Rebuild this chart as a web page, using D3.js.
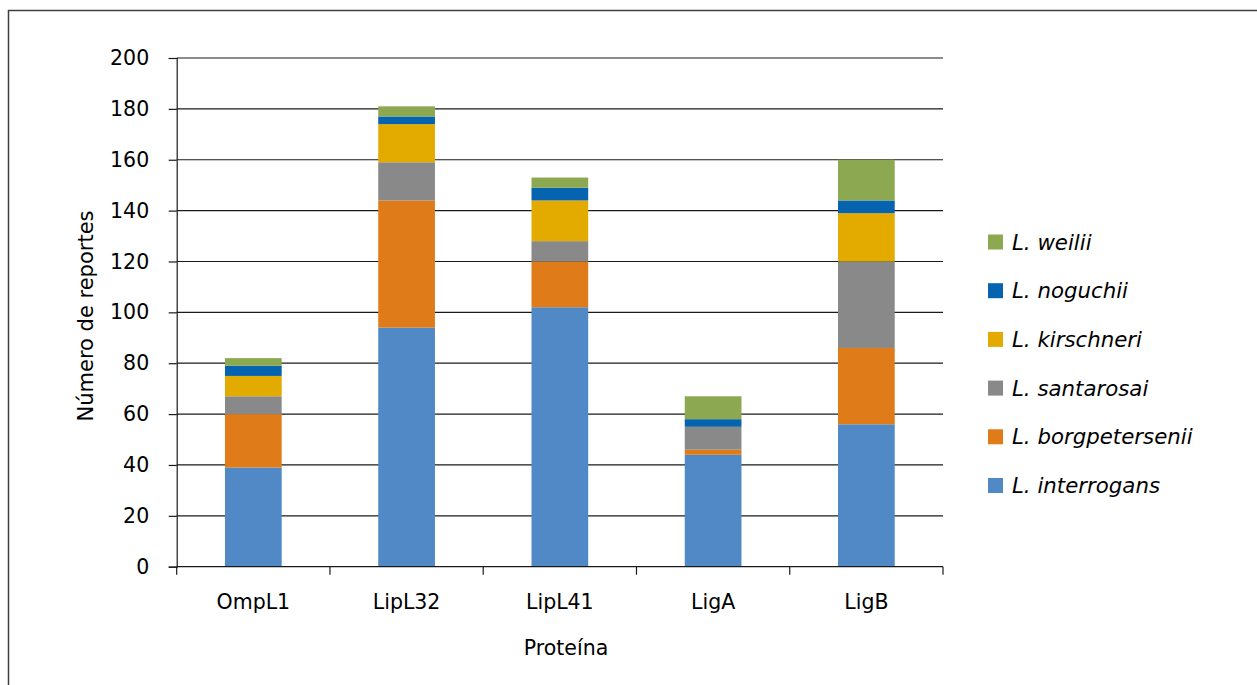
<!DOCTYPE html>
<html>
<head>
<meta charset="utf-8">
<script src="https://cdn.jsdelivr.net/npm/d3@7"></script>
<style>
  html, body { margin: 0; padding: 0; background: #fff; }
  svg { display: block; font-family: "DejaVu Sans", Verdana, sans-serif; }
</style>
</head>
<body>
<svg id="chart" width="1257" height="685"></svg>
<script>
// Proteins on the x axis
const proteins = ["OmpL1", "LipL32", "LipL41", "LigA", "LigB"];

// Species stacked from the bottom up
const species = ["L. interrogans", "L. borgpetersenii", "L. santarosai", "L. kirschneri", "L. noguchii", "L. weilii"];
const speciesColors = ["#5089c6", "#e07b1a", "#898989", "#e3aa00", "#0563b0", "#8ca850"];

// Number of reports per species, one value per protein
const interrogans    = [39, 94, 102, 44, 56];
const borgpetersenii = [21, 50, 18, 2, 30];
const santarosai     = [7, 15, 8, 9, 34];
const kirschneri     = [8, 15, 16, 0, 19];
const noguchii       = [4, 3, 5, 3, 5];
const weilii         = [3, 4, 4, 9, 16];

const yTicks = [0, 20, 40, 60, 80, 100, 120, 140, 160, 180, 200];

const seriesValues = [interrogans, borgpetersenii, santarosai, kirschneri, noguchii, weilii];
const rows = proteins.map((p, i) => {
  const r = { protein: p };
  species.forEach((s, k) => { r[s] = seriesValues[k][i]; });
  return r;
});

const svg = d3.select("#chart");
const plotLeft = 176.7, plotRight = 943, plotTop = 58, plotBottom = 566.7;
const fontSize = 20.5;

// Outer frame
svg.append("path")
  .attr("d", "M8.5,690 V10.5 H1257")
  .attr("fill", "none").attr("stroke", "#404040").attr("stroke-width", 1.5);

const x = d3.scaleBand().domain(proteins).range([plotLeft, plotRight]).paddingInner(0.63).paddingOuter(0.315);
const y = d3.scaleLinear().domain([0, 200]).range([plotBottom, plotTop]);

// Horizontal grid lines
svg.append("g").selectAll("line").data(yTicks.filter(t => t > 0)).join("line")
  .attr("x1", plotLeft).attr("x2", plotRight)
  .attr("y1", d => y(d)).attr("y2", d => y(d))
  .attr("stroke", "#1a1a1a").attr("stroke-width", 1.2);

// Stacked bars
const stack = d3.stack().keys(species)(rows);
svg.append("g").selectAll("g").data(stack).join("g")
  .attr("fill", (d, i) => speciesColors[i])
  .selectAll("rect").data(d => d).join("rect")
  .attr("x", d => x(d.data.protein))
  .attr("width", x.bandwidth())
  .attr("y", d => y(d[1]))
  .attr("height", d => y(d[0]) - y(d[1]));

// Y axis
const yAxis = d3.axisLeft(y).tickValues(yTicks).tickSize(8).tickPadding(19.5);
const gy = svg.append("g").attr("transform", `translate(${plotLeft},0)`).call(yAxis);
gy.select(".domain").attr("stroke", "#1a1a1a").attr("stroke-width", 1.2);
gy.selectAll(".tick line").attr("stroke", "#1a1a1a").attr("stroke-width", 1.2);
gy.selectAll(".tick text").attr("font-size", fontSize).attr("fill", "#000")
  .attr("font-family", "'DejaVu Sans', Verdana, sans-serif");

// X axis: line with ticks at the category boundaries
const gx = svg.append("g");
gx.append("line").attr("x1", plotLeft).attr("x2", plotRight).attr("y1", plotBottom).attr("y2", plotBottom)
  .attr("stroke", "#1a1a1a").attr("stroke-width", 1.2);
const boundaries = d3.range(proteins.length + 1).map(i => plotLeft + i * (plotRight - plotLeft) / proteins.length);
gx.selectAll(".bt").data(boundaries).join("line").attr("class", "bt")
  .attr("x1", d => d).attr("x2", d => d).attr("y1", plotBottom).attr("y2", plotBottom + 8)
  .attr("stroke", "#1a1a1a").attr("stroke-width", 1.2);
gx.selectAll("text").data(proteins).join("text")
  .attr("x", d => x(d) + x.bandwidth() / 2)
  .attr("y", 608.5)
  .attr("text-anchor", "middle")
  .attr("font-size", fontSize)
  .text(d => d);

// Axis titles
svg.append("text")
  .attr("transform", "translate(93,316) rotate(-90)")
  .attr("text-anchor", "middle").attr("font-size", 21)
  .text("Número de reportes");
svg.append("text")
  .attr("x", 566).attr("y", 655)
  .attr("text-anchor", "middle").attr("font-size", fontSize)
  .text("Proteína");

// Legend, top entry is the top of the stack
const legendOrder = species.slice().reverse();
const legend = svg.append("g").selectAll("g").data(legendOrder).join("g")
  .attr("transform", (d, i) => `translate(988,${242 + i * 48.7})`);
legend.append("rect")
  .attr("x", 0).attr("y", -7.5).attr("width", 15).attr("height", 15)
  .attr("fill", d => speciesColors[species.indexOf(d)]);
legend.append("text")
  .attr("x", 24).attr("y", 7.5)
  .attr("font-size", 21.3).attr("font-style", "italic")
  .text(d => d);
</script>
</body>
</html>
